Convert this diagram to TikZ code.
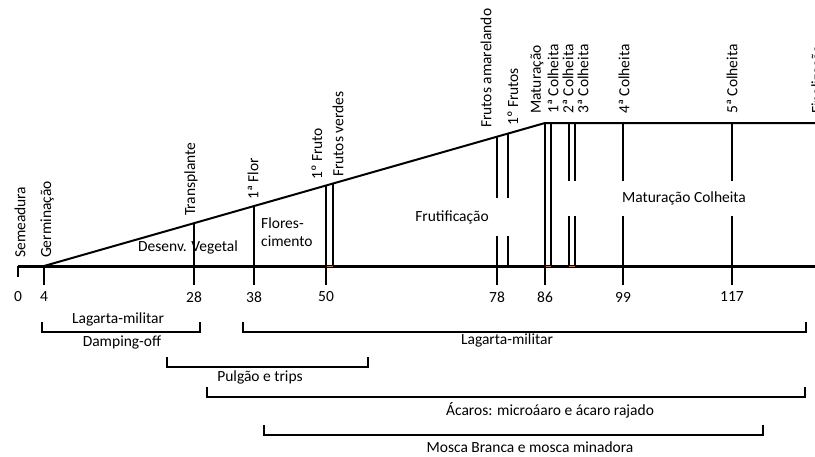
\documentclass[tikz,border=0pt]{standalone}
\usepackage{fontspec}
\setmainfont{Carlito}
\begin{document}
\begin{tikzpicture}[x=1pt,y=-1pt,
  lbl/.style={font=\fontsize{15.5}{18}\selectfont, inner sep=0pt},
  vlbl/.style={lbl, rotate=90, anchor=west},
  axisline/.style={line width=3pt},
  slantline/.style={line width=2pt},
  vbar/.style={line width=2.8pt},
  tickbar/.style={line width=2.6pt},
  brk/.style={line width=1.8pt},
  orangemark/.style={line width=1.5pt, draw=orange!80!red}
]
\useasboundingbox (0,0) rectangle (815,456);
% key coordinates
\coordinate (a0) at (18,266);
\coordinate (aend) at (815,266);
\coordinate (g) at (44,266);
\coordinate (m) at (545,123);
\coordinate (topend) at (815,123);

% inner texts
\node[lbl] (dv) at (188,247) {Desenv. Vegetal};
\node[lbl, anchor=west, align=left] (fl) at (261,232) {Flores-\\cimento};
\node[lbl] (fr) at (452,217) {Frutificação};
\node[lbl] (mc) at (684,198) {Maturação Colheita};

% main frame
\draw[axisline] (a0) -- (aend);
\draw[slantline] (g) -- (m) -- (topend);

% ticks with numbers
\foreach \x/\t/\b in {18/0/277, 44/4/285, 194/28/285, 254/38/285, 326/50/285, 497/78/285, 545/86/285, 623/99/285, 732/117/285}{
  \draw[tickbar] (\x,266) -- (\x,\b);
  \node[lbl] at (\x,297) {\t};
}
% verticals
\draw[vbar] (194,223) -- (194,266);
\draw[vbar] (254,206) -- (254,266);
\draw[vbar] (326,185.3) -- (326,266);
\draw[vbar] (333,183.3) -- (333,266);
\draw[vbar] (497,136.4) -- (497,198) (497,236) -- (497,266);
\draw[vbar] (508,133.3) -- (508,198) (508,236) -- (508,266);
\draw[vbar] (545,123) -- (545,266);
\draw[vbar] (551,123) -- (551,266);
\foreach \x in {569,575,623,732}{
  \draw[vbar] (\x,123) -- (\x,181) (\x,216) -- (\x,266);
}
% orange marks
\draw[orangemark] (327,266.5) -- (333,266.5);
\draw[orangemark] (546,266.5) -- (551,266.5);
\draw[orangemark] (569,266.5) -- (575,266.5);

% rotated labels
\node[vlbl] (l0) at (20,258) {Semeadura};
\node[vlbl] (l1) at (47,258) {Germinação};
\node[vlbl] (l2) at (191,216) {Transplante};
\node[vlbl] (l3) at (253,200) {1ª Flor};
\node[vlbl] (l4) at (317,180) {1º Fruto};
\node[vlbl] (l5) at (338,177) {Frutos verdes};
\node[vlbl] (l6) at (486,128) {Frutos amarelando};
\node[vlbl] (l7) at (513,126) {1º Frutos};
\node[vlbl] (l8) at (537,114) {Maturação};
\node[vlbl] (l9) at (553,114) {1ª Colheita};
\node[vlbl] (l10) at (568,114) {2ª Colheita};
\node[vlbl] (l11) at (583,114) {3ª Colheita};
\node[vlbl] (l12) at (624,114) {4ª Colheita};
\node[vlbl] (l13) at (732,114) {5ª Colheita};
\node[vlbl] (l14) at (818,114) {Finalização};

% brackets
\draw[brk] (42,322) -- (42,332) -- (200,332) -- (200,322);
\node[lbl] (b1) at (118,319) {Lagarta-militar};
\node[lbl] (b2) at (122,342) {Damping-off};
\draw[brk] (243,322) -- (243,332) -- (806,332) -- (806,322);
\node[lbl] (b3) at (507,340) {Lagarta-militar};
\draw[brk] (167,357) -- (167,367) -- (368,367) -- (368,357);
\node[lbl] (b4) at (260,377) {Pulgão e trips};
\draw[brk] (207,387) -- (207,397) -- (805,397) -- (805,387);
\node[lbl] (b5) at (550,410) {Ácaros: microáaro e ácaro rajado};
\draw[brk] (264,425) -- (264,435) -- (763,435) -- (763,425);
\node[lbl] (b6) at (530,447) {Mosca Branca e mosca minadora};
\end{tikzpicture}
\end{document}
